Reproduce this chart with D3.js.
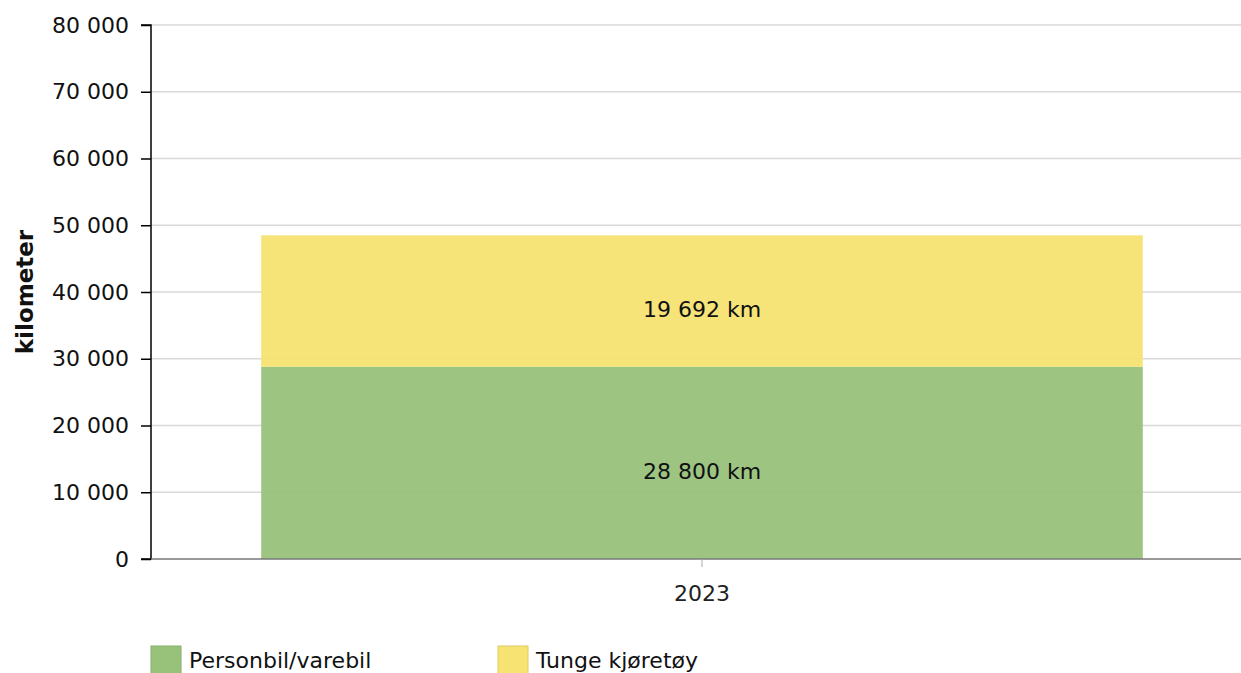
<!DOCTYPE html>
<html><head><meta charset="utf-8">
<script src="https://cdn.jsdelivr.net/npm/d3@7"></script>
<style>body{margin:0;background:#fff;} svg{display:block;font-family:"DejaVu Sans",Verdana,sans-serif;}</style>
</head><body>
<svg id="c" width="1241" height="673"></svg>
<script>
const categories = ["2023"];
const seriesNames = ["Personbil/varebil", "Tunge kjøretøy"];
const personbil = [28800];
const tunge = [19692];
const yTicks = [0, 10000, 20000, 30000, 40000, 50000, 60000, 70000, 80000];
const colors = ["#98c27a", "#f6e372"];

(function () {
const svg = d3.select("#c");
const fmt = v => d3.format(",")(v).replace(/,/g, " ");
const pL = 151, pR = 1253, pT = 25, pB = 559;
const fs = 22;
const y = d3.scaleLinear().domain([0, 80000]).range([pB, pT]);
const x = d3.scaleBand().domain(categories).range([pL, pR]).paddingInner(0.2).paddingOuter(0.1);

// gridlines
svg.append("g").selectAll("line").data(yTicks.filter(d => d > 0)).join("line")
  .attr("x1", pL).attr("x2", pR).attr("y1", d => y(d)).attr("y2", d => y(d))
  .attr("stroke", "#d9d9d9").attr("stroke-width", 1.5);

const data = categories.map((c, i) => ({cat: c, vals: [personbil[i], tunge[i]]}));
const stackData = [];
data.forEach(d => { let acc = 0; d.vals.forEach((v, j) => { stackData.push({cat: d.cat, j, y0: acc, y1: acc + v, v}); acc += v; }); });

svg.append("g").selectAll("rect").data(stackData).join("rect")
  .attr("x", d => x(d.cat)).attr("width", x.bandwidth())
  .attr("y", d => y(d.y1)).attr("height", d => y(d.y0) - y(d.y1))
  .attr("fill", d => colors[d.j]).attr("fill-opacity", 0.95);

svg.append("g").selectAll("text").data(stackData).join("text")
  .attr("x", d => x(d.cat) + x.bandwidth() / 2)
  .attr("y", d => (y(d.y0) + y(d.y1)) / 2 + 16)
  .attr("text-anchor", "middle").attr("font-size", fs).attr("fill", "#111")
  .text(d => fmt(d.v) + " km");

// y axis
const ya = svg.append("g").attr("transform", `translate(${pL},0)`)
  .call(d3.axisLeft(y).tickValues(yTicks).tickFormat(fmt).tickSize(10).tickPadding(12));
ya.select(".domain").attr("stroke", "#000").attr("stroke-width", 1.5).attr("d", `M-10,${pT}H0V${pB}H-10`);
ya.selectAll(".tick line").attr("stroke", "#000").attr("stroke-width", 1.5);
ya.selectAll("text").attr("font-size", fs).attr("fill", "#111").attr("font-family", "DejaVu Sans");

// x axis
const xa = svg.append("g").attr("transform", `translate(0,${pB})`)
  .call(d3.axisBottom(x).tickSize(8).tickPadding(18));
xa.select(".domain").attr("stroke", "#777").attr("stroke-width", 1.5).attr("d", `M${pL},0H${pR}`);
xa.selectAll(".tick line").attr("stroke", "#aaa");
xa.selectAll("text").attr("font-size", fs).attr("fill", "#222").attr("font-family", "DejaVu Sans");

svg.append("text").attr("transform", `translate(33,${(pT + pB) / 2}) rotate(-90)`)
  .attr("text-anchor", "middle").attr("font-size", 23).attr("font-weight", "bold").attr("fill", "#111")
  .text("kilometer");

// legend
const lx = [151, 498];
const lg = svg.append("g").selectAll("g").data(seriesNames).join("g")
  .attr("transform", (d, i) => `translate(${lx[i]},646)`);
lg.append("rect").attr("width", 30).attr("height", 30).attr("fill", (d, i) => colors[i])
  .attr("stroke", (d, i) => d3.color(colors[i]).darker(0.3)).attr("stroke-width", 1);
lg.append("text").attr("x", 38).attr("y", 22).attr("font-size", fs).attr("fill", "#111").text(d => d);
})();
</script>
</body></html>
